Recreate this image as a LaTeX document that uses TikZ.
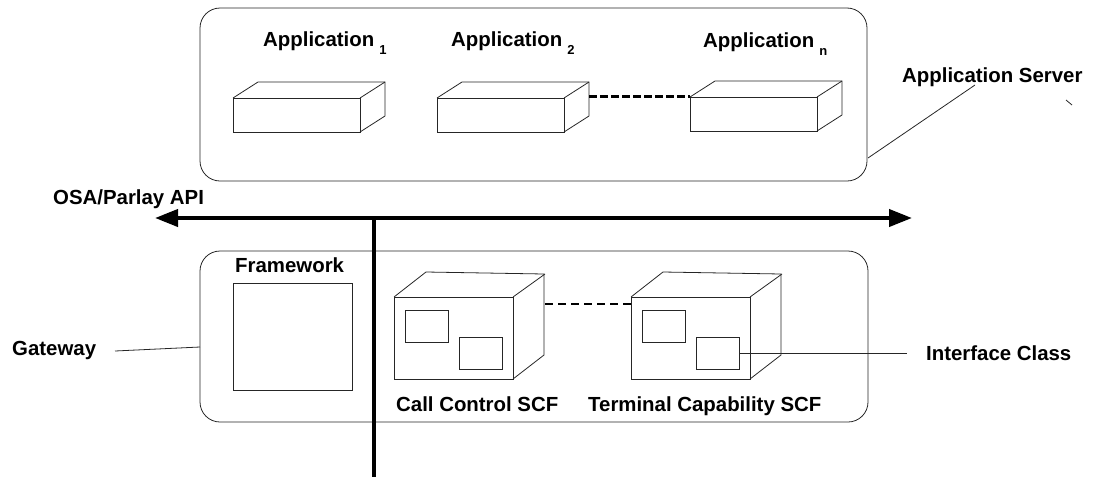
\documentclass[tikz,border=0pt]{standalone}
\usepackage{fontspec}
\setmainfont{Liberation Sans}
\usetikzlibrary{arrows.meta}

% subscripted application label
\newcommand{\applabel}[1]{Application\hspace{5pt}\raisebox{-8pt}{\fontsize{13}{13}\selectfont #1}}

\tikzset{
  thinline/.style={draw=black!85, line width=0.8pt},
  label/.style={inner sep=0pt, anchor=base west, font=\fontsize{20.4}{24}\selectfont\bfseries},
  tier/.style={thinline, rounded corners=20pt, inner sep=0pt, outer sep=0pt, anchor=north west},
  face/.style={thinline, fill=white, inner sep=0pt, outer sep=0pt, anchor=north west},
  bustip/.tip={Triangle[length=23pt,width=17pt]},
}

\begin{document}
\begin{tikzpicture}[x=1pt, y=-1pt]
  \useasboundingbox (0,0) rectangle (1099,477);

  % ---- application server tier ----
  \node[tier, minimum width=667pt, minimum height=173pt] (server) at (200,8) {};

  \node[label] (l1) at (263,46) {\applabel{1}};
  \node[label] (l2) at (451,46) {\applabel{2}};
  \node[label] (ln) at (703,47) {\applabel{n}};

  % application boxes: front face plus top and side
  \foreach \name/\x/\y in {app1/233/98, app2/437/98, appn/690/97} {
    \node[face, minimum width=127pt, minimum height=34pt] (\name) at (\x,\y) {};
    \draw[thinline] (\name.north west) -- ++(25,-16) -- ++(127,0) -- ++(0,34)
      -- (\name.south east);
    \draw[thinline] (\name.north east) -- ++(25,-16);
  }
  \coordinate (app2back) at ([shift={(25,-2)}]app2.north east);
  \draw[line width=3pt, dash pattern=on 8pt off 3pt] (app2back) -- (app2back -| appn.north west);

  \node[label] (as) at (902,82) {Application Server};
  \coordinate (asfoot) at (975,85);
  \coordinate (serverpin) at (868,158);
  \draw[thinline] (asfoot) -- (serverpin);
  \coordinate (tickA) at (1066,100);
  \coordinate (tickB) at (1072,105);
  \draw[thinline] (tickA) -- (tickB);

  % ---- API bus ----
  \node[label] (api) at (53,204) {OSA/Parlay API};
  \coordinate (busL) at (155,218);
  \coordinate (busR) at (912,218);
  \coordinate (busM) at (374,218);
  \coordinate (busEnd) at (374,477);
  \draw[line width=4pt, bustip-bustip] (busL) -- (busR);

  % ---- gateway tier ----
  \node[tier, minimum width=668pt, minimum height=171pt] (gateway) at (200,251) {};
  \draw[line width=4pt] (busM) -- (busEnd);

  \node[label] (fwl) at (235,272) {Framework};
  \node[face, minimum width=119pt, minimum height=107pt] (fw) at (233,283) {};

  % service capability features: cube with two interface classes
  \foreach \name/\x in {cc/394, tc/631} {
    \node[face, minimum width=119pt, minimum height=82pt] (\name) at (\x,297) {};
    \draw[thinline] (\name.north west) -- ++(32,-25) -- ++(118,2) -- ++(0,81)
      -- (\name.south east);
    \draw[thinline] (\name.north east) -- ++(32,-23);
    \node[face, minimum width=43pt, minimum height=32pt] (\name i1) at (\x+11,310) {};
    \node[face, minimum width=43pt, minimum height=32pt] (\name i2) at (\x+65,337) {};
  }
  \coordinate (ccback) at ([shift={(32,7)}]cc.north east);
  \draw[line width=1.4pt, dash pattern=on 8pt off 5pt] (ccback) -- (ccback -| tc.north west);

  \node[label] (ccl) at (396,411) {Call Control SCF};
  \node[label] (tcl) at (588,411) {Terminal Capability SCF};

  \node[label] (ic) at (926,360) {Interface Class};
  \coordinate (icpin) at ([xshift=-19pt]ic.west);
  \draw[thinline] (tci2.east) -- (tci2.east -| icpin);

  \node[label] (gw) at (12,355) {Gateway};
  \coordinate (gwfoot) at (115,351);
  \coordinate (gwpin) at (200,347);
  \draw[thinline] (gwfoot) -- (gwpin);
\end{tikzpicture}
\end{document}
